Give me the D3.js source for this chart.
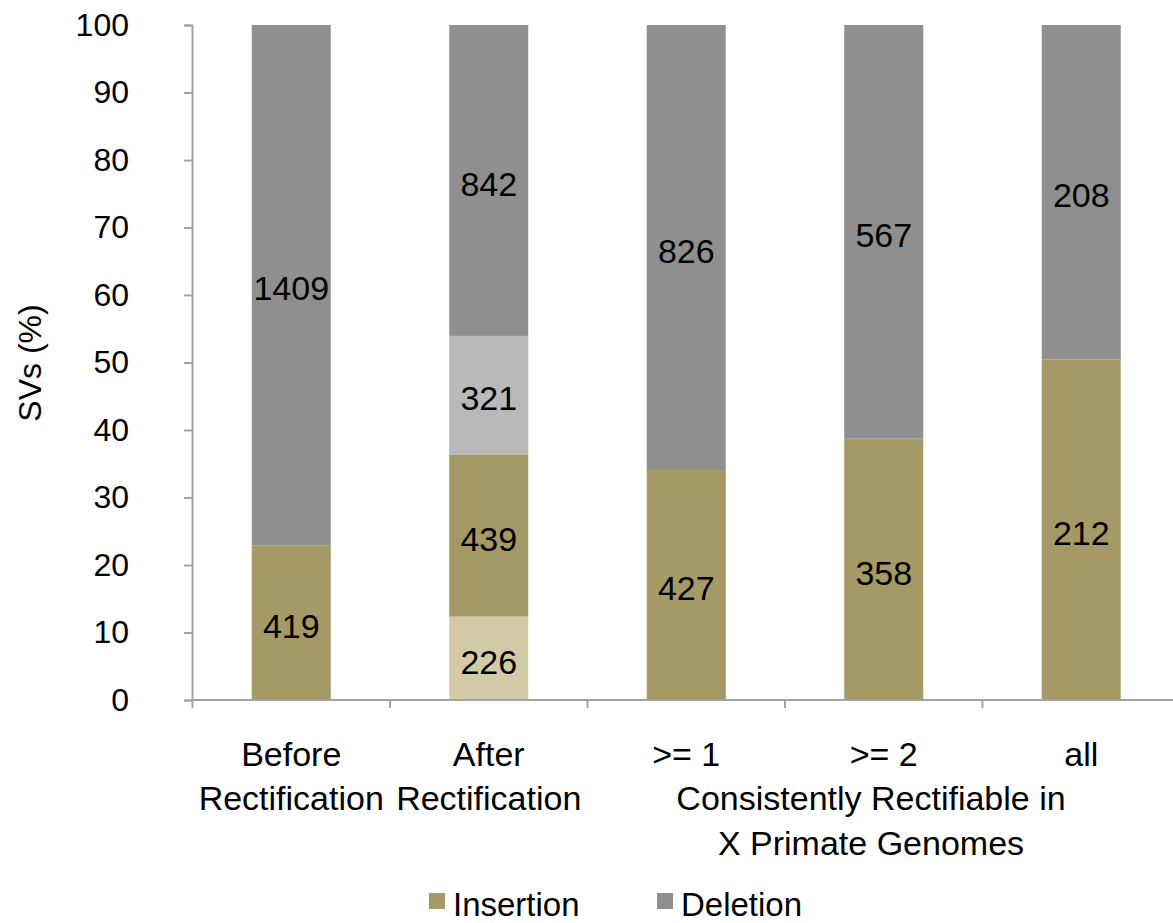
<!DOCTYPE html>
<html>
<head>
<meta charset="utf-8">
<script src="https://cdn.jsdelivr.net/npm/d3@7"></script>
<style>
  html, body { margin: 0; padding: 0; background: #fff; }
  svg { display: block; }
  text { font-family: "Liberation Sans", Arial, Helvetica, sans-serif; fill: #000; }
</style>
</head>
<body>
<svg id="chart" width="1173" height="923"></svg>
<script>
// ---- data ----
const categories = ["Before Rectification", "After Rectification", ">= 1", ">= 2", "all"];
const categoryLines = [["Before", "Rectification"], ["After", "Rectification"], [">= 1"], [">= 2"], ["all"]];
const groupLabel = ["Consistently Rectifiable in", "X Primate Genomes"];
const insertionLight = [0, 226, 0, 0, 0];
const insertion = [419, 439, 427, 358, 212];
const deletionLight = [0, 321, 0, 0, 0];
const deletion = [1409, 842, 826, 567, 208];
const yTicks = [0, 10, 20, 30, 40, 50, 60, 70, 80, 90, 100];
const seriesKeys = ["insertionLight", "insertion", "deletionLight", "deletion"];
const legendItems = ["Insertion", "Deletion"];
const yTitle = "SVs (%)";

// ---- styling ----
const colors = {
  insertionLight: "#d3cba8",
  insertion: "#a59a65",
  deletionLight: "#b9b9b9",
  deletion: "#8f8f8f"
};
const axisColor = "#a3a3a3";

const svg = d3.select("#chart");
const table = categories.map((c, i) => ({
  cat: c,
  insertionLight: insertionLight[i],
  insertion: insertion[i],
  deletionLight: deletionLight[i],
  deletion: deletion[i]
}));

const stack = d3.stack().keys(seriesKeys).offset(d3.stackOffsetExpand);
const series = stack(table);

const x = d3.scaleBand().domain(categories).range([192.5, 1180]).paddingInner(0.6).paddingOuter(0.3);
const y = d3.scaleLinear().domain([0, 100]).range([700, 25]);

// bars
const g = svg.append("g");
series.forEach(s => {
  g.selectAll(null).data(s).enter().append("rect")
    .attr("x", d => x(d.data.cat))
    .attr("width", x.bandwidth())
    .attr("y", d => y(d[1] * 100))
    .attr("height", d => y(d[0] * 100) - y(d[1] * 100))
    .attr("fill", colors[s.key]);
});

// bar value labels
series.forEach(s => {
  g.selectAll(null).data(s.filter(d => d.data[s.key] > 0)).enter().append("text")
    .attr("x", d => x(d.data.cat) + x.bandwidth() / 2)
    .attr("y", d => y((d[0] + d[1]) / 2 * 100))
    .attr("dy", "0.45em")
    .attr("text-anchor", "middle")
    .style("font-size", "34px")
    .text(d => d.data[s.key]);
});

// y axis
const yAxis = d3.axisLeft(y).tickValues(yTicks).tickSize(8).tickPadding(55).tickFormat(d3.format("d"));
const ya = svg.append("g").attr("transform", "translate(192,0)").call(yAxis);
ya.select(".domain").attr("stroke", axisColor).attr("stroke-width", 2);
ya.selectAll(".tick line").attr("stroke", axisColor).attr("stroke-width", 2);
ya.selectAll(".tick text").style("font-size", "32px").attr("fill", "#000")
  .style("font-family", "'Liberation Sans', Arial, sans-serif");

// x axis line with boundary ticks
const step = x.step();
const gap = (step - x.bandwidth()) / 2;
const bounds = categories.map(c => x(c) - gap);
svg.append("line")
  .attr("x1", 191).attr("x2", 1173).attr("y1", y(0)).attr("y2", y(0))
  .attr("stroke", axisColor).attr("stroke-width", 2);
svg.selectAll(".xtick").data(bounds).enter().append("line")
  .attr("x1", d => d).attr("x2", d => d)
  .attr("y1", y(0)).attr("y2", y(0) + 8)
  .attr("stroke", axisColor).attr("stroke-width", 2);

// x category labels
categories.forEach((c, i) => {
  const cx = x(c) + x.bandwidth() / 2;
  categoryLines[i].forEach((line, j) => {
    svg.append("text")
      .attr("x", cx).attr("y", 766 + j * 44)
      .attr("text-anchor", "middle")
      .style("font-size", "34px")
      .text(line);
  });
});
groupLabel.forEach((line, j) => {
  svg.append("text")
    .attr("x", 871).attr("y", 810 + j * 45)
    .attr("text-anchor", "middle")
    .style("font-size", "34px")
    .text(line);
});

// y title
svg.append("text")
  .attr("transform", "translate(41,363) rotate(-90)")
  .attr("text-anchor", "middle")
  .style("font-size", "32px")
  .text(yTitle);

// legend
const legendX = [429, 657];
const legendKeys = ["insertion", "deletion"];
legendItems.forEach((name, i) => {
  svg.append("rect").attr("x", legendX[i]).attr("y", 893).attr("width", 16).attr("height", 16)
    .attr("fill", colors[legendKeys[i]]);
  svg.append("text").attr("x", legendX[i] + 24).attr("y", 916)
    .style("font-size", "33px").text(name);
});
</script>
</body>
</html>
